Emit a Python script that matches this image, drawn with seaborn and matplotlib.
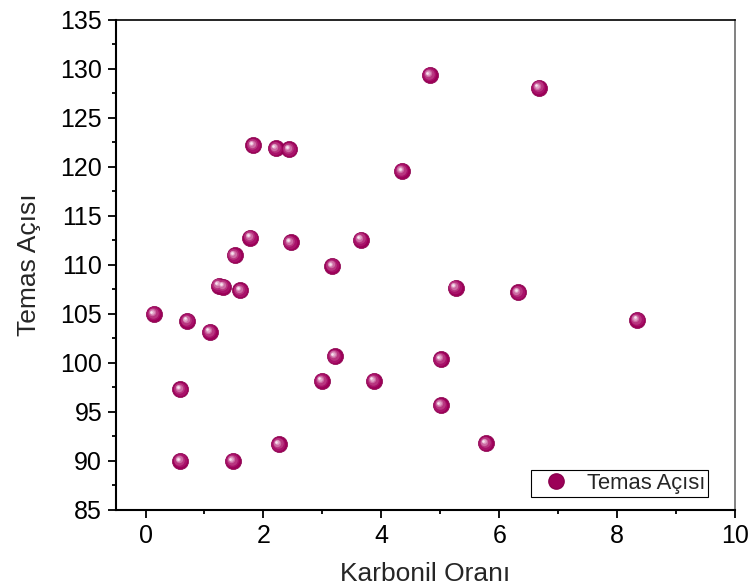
import matplotlib
matplotlib.use("Agg")
import matplotlib.pyplot as plt
from matplotlib.transforms import offset_copy
from matplotlib.ticker import MultipleLocator
from matplotlib.lines import Line2D
import seaborn as sns
import pandas as pd

# Carbonyl ratio vs. contact angle measurements
karbonil_orani = [0.14, 0.59, 0.59, 0.71, 1.09, 1.24, 1.32, 1.61, 1.51, 1.48,
                  1.78, 1.83, 2.21, 2.44, 2.46, 2.26, 2.99, 3.17, 3.21, 3.65,
                  3.87, 4.35, 4.82, 5.01, 5.01, 5.26, 5.77, 6.32, 6.67, 8.34]
temas_acisi = [105.0, 97.3, 90.0, 104.3, 103.2, 107.9, 107.8, 107.4, 111.0, 90.0,
               112.8, 122.2, 121.9, 121.8, 112.3, 91.7, 98.2, 109.9, 100.7, 112.6,
               98.2, 119.6, 129.4, 100.4, 95.7, 107.7, 91.8, 107.2, 128.1, 104.4]

df = pd.DataFrame({"Karbonil Oranı": karbonil_orani, "Temas Açısı": temas_acisi})

sns.set_style("ticks")
plt.rcParams["font.family"] = ["Liberation Sans", "DejaVu Sans"]

fig = plt.figure(figsize=(7.5, 5.88), dpi=100)
ax = fig.add_axes([0.1547, 0.1327, 0.8253, 0.8333])

base_color = "#9c0058"
# sphere body
sns.scatterplot(data=df, x="Karbonil Oranı", y="Temas Açısı", ax=ax,
                color=base_color, s=135, edgecolor="#8a004d", linewidth=0.5,
                zorder=3, legend=False)

# shading layers toward the upper-left highlight
shade = [(95, "#a8126a", -0.4, 0.4), (58, "#b8357f", -0.8, 0.8),
         (28, "#cc6aa3", -1.2, 1.2), (11, "#e2a6c8", -1.5, 1.5),
         (3.5, "#f6e4ef", -1.7, 1.7)]
for size, col, dx, dy in shade:
    tr = offset_copy(ax.transData, fig=fig, x=dx, y=dy, units="points")
    ax.scatter(df["Karbonil Oranı"], df["Temas Açısı"], s=size, color=col,
               linewidths=0, transform=tr, zorder=4)

ax.set_xlim(-0.5, 10)
ax.set_ylim(85, 135)
ax.xaxis.set_major_locator(MultipleLocator(2))
ax.xaxis.set_minor_locator(MultipleLocator(1))
ax.yaxis.set_major_locator(MultipleLocator(5))
ax.yaxis.set_minor_locator(MultipleLocator(2.5))

ax.tick_params(which="major", direction="out", length=6, width=1.3,
               labelsize=18, color="black", labelcolor="black", pad=4)
ax.tick_params(which="minor", direction="out", length=3.2, width=1.3,
               color="black")
ax.tick_params(top=False, right=False, which="both")

for side in ["left", "bottom"]:
    ax.spines[side].set_linewidth(1.5)
    ax.spines[side].set_color("black")
ax.spines["top"].set_linewidth(1.2)
ax.spines["top"].set_color("black")
ax.spines["right"].set_linewidth(1.3)
ax.spines["right"].set_color("#777777")

ax.set_xlabel("Karbonil Oranı", fontsize=19, labelpad=10)
ax.set_ylabel("Temas Açısı", fontsize=19, labelpad=14)

handle = Line2D([], [], linestyle="none", marker="o", markersize=11,
                markerfacecolor=base_color, markeredgecolor="#8a004d")
leg = ax.legend([handle], ["Temas Açısı"], loc="lower right",
                bbox_to_anchor=(0.957, 0.027), fontsize=15.8, frameon=True,
                fancybox=False, edgecolor="black", framealpha=1,
                borderpad=0.12, handlelength=2.0, handletextpad=0.45,
                borderaxespad=0)
leg.get_frame().set_linewidth(0.8)

fig.savefig("out.png", dpi=100)
